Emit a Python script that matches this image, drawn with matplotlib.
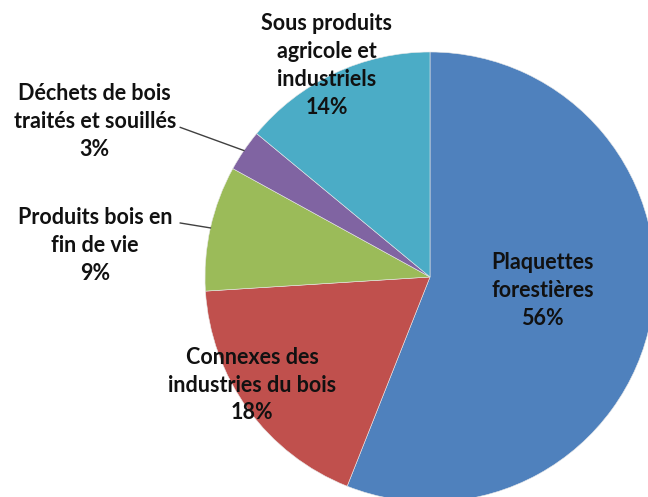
import matplotlib
matplotlib.use('Agg')
import matplotlib.pyplot as plt
import numpy as np

plt.rcParams['font.family'] = ['Lato', 'DejaVu Sans']

names = ['Plaquettes\nforestières',
         'Connexes des\nindustries du bois',
         'Produits bois en\nfin de vie',
         'Déchets de bois\ntraités et souillés',
         'Sous produits\nagricole et\nindustriels']
values = [56, 18, 9, 3, 14]
colors = ['#4F81BD', '#C0504D', '#9BBB59', '#8064A2', '#4BACC6']

# label centres (data units, pie radius = 1)
label_pos = [(0.50, -0.06), (-0.79, -0.48), (-1.49, 0.14), (-1.49, 0.69), (-0.46, 0.94)]
# where the leader line leaves the text (None = no leader)
leader_start = [None, None, (-1.11, 0.24), (-1.11, 0.665), None]

fig = plt.figure(figsize=(6.48, 4.97), dpi=100)
ax = fig.add_axes([0, 0, 1, 1])

wedges, _ = ax.pie(values, colors=colors, startangle=90, counterclock=False,
                   radius=1, wedgeprops=dict(linewidth=0.4, edgecolor='#e8e8e8'))

for w, name, v, pos, ls in zip(wedges, names, values, label_pos, leader_start):
    ax.text(pos[0], pos[1], f'{name}\n{v}%', ha='center', va='center',
            fontsize=15.5, fontweight='bold', linespacing=1.4, color='#111111')
    if ls is not None:
        mid = np.deg2rad((w.theta1 + w.theta2) / 2)
        ax.plot([ls[0], np.cos(mid)], [ls[1], np.sin(mid)], color='#404040', lw=1)

ax.set_xlim(-430 / 225, (648 - 430) / 225)
ax.set_ylim(-(497 - 277) / 225, 277 / 225)
ax.set_aspect('equal')
ax.axis('off')

fig.savefig('out.png', dpi=100)
